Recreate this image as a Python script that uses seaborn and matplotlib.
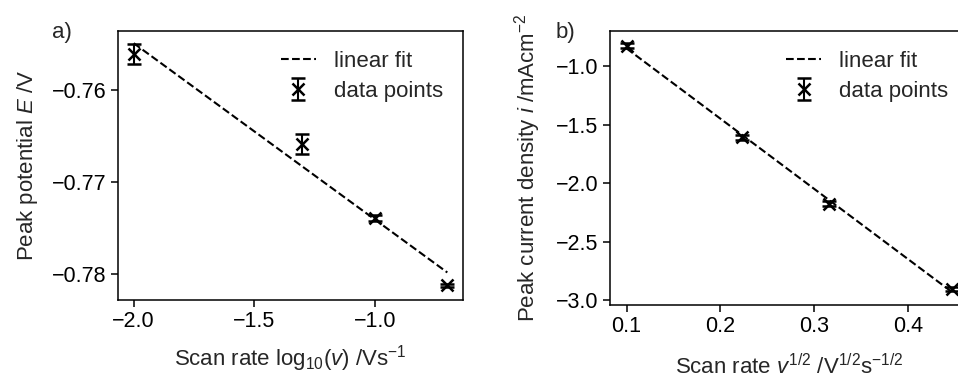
import numpy as np
import matplotlib
matplotlib.use("Agg")
import matplotlib.pyplot as plt
import seaborn as sns

# ---- data ----
log_scan_rate = [-2.0, -1.301, -1.0, -0.699]
peak_potential = [-0.75605, -0.76584, -0.77391, -0.78122]
peak_potential_err = [0.0011, 0.0011, 0.0003, 0.0002]

sqrt_scan_rate = [0.1, 0.2236, 0.3162, 0.4472]
peak_current = [-0.825, -1.607, -2.174, -2.905]
peak_current_err = [0.02, 0.02, 0.02, 0.02]

xticks_a = [-2.0, -1.5, -1.0]
yticks_a = [-0.76, -0.77, -0.78]
xticks_b = [0.1, 0.2, 0.3, 0.4]
yticks_b = [-1.0, -1.5, -2.0, -2.5, -3.0]

sns.set_style("ticks")
plt.rcParams['font.family'] = ['Liberation Sans', 'DejaVu Sans']
plt.rcParams['mathtext.fontset'] = 'custom'
plt.rcParams['mathtext.rm'] = 'Liberation Sans'
plt.rcParams['mathtext.it'] = 'Liberation Sans:italic'
plt.rcParams['mathtext.bf'] = 'Liberation Sans:bold'
plt.rcParams['axes.edgecolor'] = 'black'
plt.rcParams['xtick.color'] = 'black'
plt.rcParams['ytick.color'] = 'black'
plt.rcParams['axes.linewidth'] = 1.1

FS_TICK = 15.5
FS_LAB = 16
FS_LEG = 16

fig = plt.figure(figsize=(9.58, 3.81), dpi=100)
ax1 = fig.add_axes([118/958, (381-299.5)/381, 345/958, (299.5-31)/381])
ax2 = fig.add_axes([610.3/958, (381-304.5)/381, 358/958, (304.5-31)/381])


def panel(ax, x, y, yerr, xlabel, ylabel, xticks, yticks, fmt_y, xpad, ypad):
    x = np.asarray(x)
    y = np.asarray(y)
    k, b = np.polyfit(x, y, 1)
    xf = np.array([x.min(), x.max()])
    sns.lineplot(x=xf, y=k * xf + b, ax=ax, color='black', linestyle='--',
                 linewidth=1.5, label='linear fit')
    ax.errorbar(x, y, yerr=yerr, fmt='x', color='black', markersize=9,
                markeredgewidth=1.8, capsize=5, elinewidth=1.5, capthick=1.5,
                label='data points')
    ax.set_xticks(xticks)
    ax.set_yticks(yticks)
    ax.set_yticklabels([fmt_y(v) for v in yticks])
    ax.set_xticklabels([f"{v:.1f}".replace('-', '\u2212') for v in xticks])
    ax.tick_params(labelsize=FS_TICK, width=1.1, length=5)
    ax.set_xlabel(xlabel, fontsize=FS_LAB, labelpad=xpad)
    ax.set_ylabel(ylabel, fontsize=FS_LAB, labelpad=ypad)
    ax.legend(frameon=False, fontsize=FS_LEG, loc='upper right', handlelength=1.6,
              handletextpad=0.8, labelspacing=0.4)


panel(ax1, log_scan_rate, peak_potential, peak_potential_err,
      r"Scan rate log$_{10}$($v$) /Vs$^{-1}$", r"Peak potential $E$ /V",
      xticks_a, yticks_a, lambda v: f"{v:.2f}".replace('-', '\u2212'), 8, 8)
panel(ax2, sqrt_scan_rate, peak_current, peak_current_err,
      r"Scan rate $v^{1/2}$ /V$^{1/2}$s$^{-1/2}$", r"Peak current density $i$ /mAcm$^{-2}$",
      xticks_b, yticks_b, lambda v: f"{v:.1f}".replace('-', '\u2212'), 12, 9)

fig.text(52/958, 1 - 38/381, "a)", fontsize=FS_LAB)
fig.text(556/958, 1 - 38/381, "b)", fontsize=FS_LAB)

fig.savefig("out.png", dpi=100)
